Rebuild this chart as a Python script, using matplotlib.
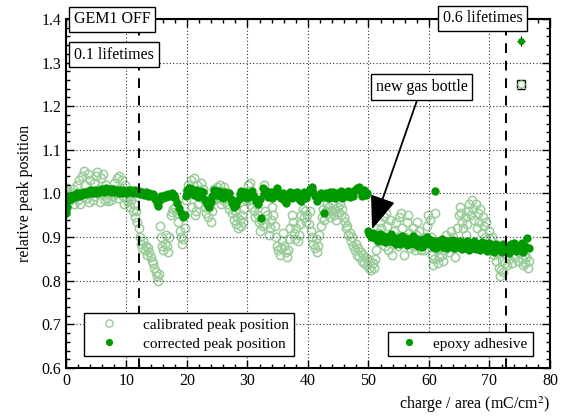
import matplotlib
matplotlib.use('Agg')
import matplotlib.pyplot as plt
from matplotlib.lines import Line2D
from matplotlib.ticker import MultipleLocator

plt.rcParams['font.family'] = 'serif'
plt.rcParams['font.serif'] = ['Liberation Serif', 'DejaVu Serif']
plt.rcParams['mathtext.fontset'] = 'stix'

# calibrated peak position (open light green circles)
calib_x = [0.0, 0.2, 0.4, 0.6, 0.8, 1.0, 1.2, 1.4, 1.6, 1.8, 2.0, 2.2, 2.4,
           2.6, 2.8, 3.0, 3.2, 3.4, 3.6, 3.8, 4.0, 4.2, 4.4, 4.6, 4.8, 5.0,
           5.2, 5.4, 5.6, 5.8, 6.0, 6.2, 6.4, 6.6, 6.8, 7.0,
           7.2, 7.4, 7.6, 7.8, 8.0, 8.2, 8.4, 8.6, 8.8, 9.0, 9.2, 9.4,
           9.6, 9.8, 10.0, 10.2, 10.4, 10.6, 10.8, 11.0, 11.2, 11.4, 11.6, 11.8,
           12.0, 12.2, 12.4, 12.6, 12.8, 13.0, 13.2, 13.4, 13.6, 13.8, 14.0, 14.2,
           14.4, 14.6, 14.8, 15.0, 15.2, 15.3,
           15.5, 15.7, 15.9, 16.1, 16.3, 16.5, 16.7, 16.9, 17.1, 17.3, 17.5, 17.7,
           18.0, 18.3, 18.6, 18.8, 19.0, 19.2, 19.4, 19.6,
           19.8, 20.0, 20.2, 20.5, 20.7, 20.9, 21.1, 21.3, 21.5, 21.7, 21.9, 22.1, 22.3, 22.5,
           22.7, 22.9, 23.1, 23.3, 23.5, 23.7, 23.9, 24.1, 24.3, 24.5, 24.7,
           25.0, 25.2, 25.4, 25.6, 25.8, 26.0, 26.2, 26.4, 26.6, 26.8, 27.0, 27.2,
           27.5, 27.7, 27.9, 28.1, 28.3, 28.5, 28.7, 28.9, 29.1, 29.3, 29.5, 29.7,
           29.9, 30.1, 30.3, 30.5, 30.7, 30.9, 31.1, 31.3, 31.5, 31.7, 31.9, 32.1, 32.3, 32.5,
           32.7, 32.9, 33.1, 33.3, 33.5, 33.7, 33.9, 34.1, 34.3, 34.5, 34.7, 34.9,
           35.1, 35.3, 35.5, 35.7, 35.9, 36.1, 36.3, 36.5, 36.7, 36.9, 37.1, 37.3,
           37.5, 37.7, 37.9, 38.1, 38.3, 38.5, 38.7, 38.9, 39.1, 39.3, 39.5, 39.7,
           39.9, 40.1, 40.3, 40.5, 40.7, 40.9, 41.1, 41.3, 41.5, 41.7, 41.9, 42.1,
           42.3, 42.5, 42.7, 42.9, 43.1, 43.3, 43.5, 43.7, 43.9, 44.1, 44.3, 44.5,
           44.7, 44.9, 45.1, 45.3, 45.5, 45.7, 45.9, 46.1, 46.3, 46.5, 46.7, 46.9,
           47.1, 47.3, 47.5, 47.7, 47.9, 48.1, 48.3, 48.5, 48.7, 48.9, 49.1, 49.3,
           49.5, 49.7, 49.9, 50.1, 50.3, 50.5, 50.7, 50.9, 51.1, 51.3,
           51.5, 51.7, 51.9, 52.1, 52.3, 52.5, 52.7, 52.9, 53.1, 53.3, 53.5, 53.7,
           53.9, 54.1, 54.3, 54.5, 54.7, 54.9, 55.1, 55.3, 55.5, 55.7, 55.9, 56.1,
           56.3, 56.5, 56.7, 56.9, 57.1, 57.3, 57.5, 57.7, 57.9, 58.1, 58.3, 58.5,
           58.7, 58.9, 59.1, 59.3, 59.5, 59.7, 59.9, 60.1, 60.3, 60.5, 60.7, 60.9,
           61.0, 61.1, 61.3, 61.5, 61.7, 61.9, 62.1, 62.3, 62.5, 62.7, 62.9, 63.1,
           63.3, 63.5, 63.7, 63.9, 64.1, 64.3, 64.5, 64.7,
           64.9, 65.1, 65.3, 65.5, 65.7, 65.9, 66.1, 66.3, 66.5, 66.7, 66.9, 67.1,
           67.3, 67.5, 67.7, 67.9, 68.1, 68.3, 68.5, 68.7, 68.9, 69.1, 69.3, 69.5,
           69.7, 69.9, 70.1, 70.3, 70.5, 70.7, 70.9, 71.1, 71.3, 71.5, 71.7, 71.9,
           72.1, 72.3, 72.5, 72.7, 72.9, 73.1, 73.3, 73.5, 73.7, 73.9, 74.1, 74.3,
           74.5, 74.7, 74.9, 75.1, 75.3, 75.5, 75.7, 75.9, 76.1, 76.3, 76.5]
calib_y = [1.005, 1.012, 0.998, 0.985, 1.000, 0.990, 1.010, 0.975, 0.995, 1.020, 0.985, 1.030, 0.975,
           1.040, 1.000, 1.052, 1.020, 0.990, 1.045, 0.980, 1.030, 1.000, 0.985, 1.025, 0.995, 1.040,
           1.048, 1.010, 0.980, 1.035, 1.000, 1.045, 0.985, 1.020, 0.990, 0.982,
           1.000, 0.985, 1.010, 0.995, 1.025, 1.000, 1.035, 0.990, 1.040, 1.010, 1.030, 0.995,
           0.975, 1.020, 0.990, 0.980, 0.995, 0.970, 0.985, 0.960, 0.975, 0.945, 0.960, 0.935,
           0.920, 0.900, 0.885, 0.875, 0.890, 0.870, 0.880, 0.860, 0.875, 0.865, 0.855, 0.845,
           0.840, 0.830, 0.820, 0.810, 0.800, 0.815,
           0.925, 0.900, 0.880, 0.870, 0.885, 0.905, 0.880, 0.865, 0.900, 0.950, 0.958, 0.965,
           0.970, 0.955, 0.935, 0.915, 0.900, 0.885, 0.895, 0.920,
           0.985, 1.005, 1.020, 1.000, 1.030, 0.970, 1.035, 0.950, 0.960, 1.020, 0.975, 1.005, 1.025, 0.990,
           1.010, 0.970, 0.955, 0.985, 0.945, 0.970, 0.935, 0.960, 0.985, 1.010, 0.995,
           1.015, 0.990, 1.020, 0.975, 1.005, 0.985, 1.015, 0.995, 0.975, 1.000, 0.965, 0.985,
           0.955, 0.940, 0.960, 0.930, 0.945, 0.920, 0.940, 0.925, 0.950, 0.935, 0.965, 0.985,
           1.000, 1.020, 0.985, 1.025, 0.970, 0.995, 0.960, 0.945, 0.975, 0.950, 0.935, 0.915, 0.940, 0.925,
           1.020, 0.960, 0.930, 0.950, 0.905, 0.920, 0.940, 0.970, 0.950, 0.925, 0.900, 0.880,
           0.870, 0.860, 0.875, 0.890, 0.910, 0.880, 0.865, 0.855, 0.870, 0.895, 0.920, 0.950,
           0.935, 0.910, 0.895, 0.920, 0.890, 0.905, 0.930, 0.950, 0.965, 0.945, 0.960, 0.935,
           0.950, 0.930, 0.960, 0.915, 0.900, 0.885, 0.875, 0.895, 0.865, 0.880, 0.905, 0.925,
           0.945, 0.965, 0.940, 0.960, 0.975, 0.955, 0.970, 0.945, 0.960, 0.975, 0.950, 0.965,
           0.940, 0.970, 0.955, 0.975, 0.950, 0.965, 0.945, 0.935, 0.920, 0.925, 0.905, 0.910,
           0.890, 0.900, 0.880, 0.870, 0.885, 0.860, 0.875, 0.855, 0.865, 0.845, 0.860, 0.840,
           0.855, 0.835, 0.850, 0.830, 0.845, 0.825, 0.840, 0.830, 0.850, 0.870,
           0.890, 0.910, 0.935, 0.920, 0.900, 0.945, 0.880, 0.955, 0.925, 0.870, 0.940, 0.900,
           0.860, 0.885, 0.915, 0.935, 0.900, 0.880, 0.945, 0.955, 0.920, 0.890, 0.860, 0.900,
           0.935, 0.950, 0.910, 0.875, 0.895, 0.920, 0.880, 0.870, 0.905, 0.935, 0.915, 0.890,
           0.870, 0.895, 0.870, 0.885, 0.900, 0.925, 0.950, 0.940, 0.900, 0.860, 0.835, 0.850,
           0.955, 0.880, 0.870, 0.840, 0.855, 0.875, 0.860, 0.845, 0.870, 0.890, 0.905, 0.880,
           0.865, 0.890, 0.915, 0.900, 0.875, 0.855, 0.880, 0.920,
           0.950, 0.970, 0.955, 0.935, 0.920, 0.945, 0.905, 0.930, 0.960, 0.975, 0.950, 0.985,
           0.965, 0.940, 0.975, 0.920, 0.955, 0.935, 0.965, 0.910, 0.945, 0.925, 0.900, 0.935,
           0.885, 0.915, 0.895, 0.870, 0.900, 0.860, 0.880, 0.845, 0.865, 0.830, 0.810, 0.825,
           0.845, 0.820, 0.840, 0.860, 0.835, 0.880, 0.850, 0.870, 0.840, 0.860, 0.885, 0.855,
           0.870, 0.845, 0.865, 0.880, 0.850, 0.835, 0.860, 0.840, 0.855, 0.830, 0.845]

# corrected peak position (filled dark green dots)
corr_x = [0.0, 0.1, 0.3, 0.6, 0.9, 1.2, 1.5, 1.8, 2.1, 2.4, 2.7, 3.0, 3.3, 3.6, 3.9,
          4.2, 4.5, 4.8, 5.1, 5.4, 5.7, 6.0, 6.3, 6.6, 6.9, 7.2, 7.5, 7.8, 8.1, 8.4,
          8.7, 9.0, 9.3, 9.6, 9.9, 10.2, 10.5, 10.8, 11.1, 11.4, 11.7, 12.0, 12.3, 12.6,
          12.9, 13.2, 13.5, 13.8, 14.1, 14.4, 14.7, 15.0, 15.2, 15.4, 15.7, 16.0, 16.3,
          16.6, 16.9, 17.2, 17.5, 17.8, 18.1, 18.4, 18.7, 19.0, 19.3, 19.6, 19.8, 20.0,
          20.3, 20.6, 20.9, 21.2, 21.5, 21.8, 22.1, 22.4, 22.7, 23.0, 23.3, 23.6, 23.9,
          24.2, 24.5, 24.8, 25.1, 25.4, 25.7, 26.0, 26.3, 26.6, 26.9, 27.2, 27.5, 27.8,
          28.1, 28.4, 28.7, 29.0, 29.3, 29.6, 29.9, 30.2, 30.5, 30.8, 31.1, 31.4, 31.7,
          32.0, 32.2, 32.5, 32.8, 33.1, 33.4, 33.7, 34.0, 34.3, 34.6, 34.9, 35.2, 35.5,
          35.8, 36.1, 36.4, 36.7, 37.0, 37.3, 37.6, 37.9, 38.2, 38.5, 38.8, 39.1, 39.4,
          39.7, 40.0, 40.3, 40.6, 40.9, 41.2, 41.5, 41.8, 42.1, 42.4, 42.7, 43.0, 43.3,
          43.6, 43.9, 44.2, 44.5, 44.8, 45.1, 45.4, 45.7, 46.0, 46.3, 46.6, 46.9, 47.2,
          47.5, 47.8, 48.1, 48.4, 48.7, 49.0, 49.3, 49.6, 49.8,
          49.9, 50.1, 50.4, 50.7, 51.0, 51.3, 51.6, 51.9, 52.2, 52.5, 52.8, 53.1, 53.4,
          53.7, 54.0, 54.3, 54.6, 54.9, 55.2, 55.5, 55.8, 56.1, 56.4, 56.7, 57.0, 57.3,
          57.6, 57.9, 58.2, 58.5, 58.8, 59.1, 59.4, 59.7, 60.0, 60.3, 60.6, 60.9, 61.2,
          61.5, 61.8, 62.1, 62.4, 62.7, 63.0, 63.3, 63.6, 63.9, 64.2, 64.5, 64.8, 65.1,
          65.4, 65.7, 66.0, 66.3, 66.6, 66.9, 67.2, 67.5, 67.8, 68.1, 68.4, 68.7, 69.0,
          69.3, 69.6, 69.9, 70.2, 70.5, 70.8, 71.1, 71.4, 71.7, 72.0, 72.3, 72.6, 72.9,
          73.2, 73.5, 73.8, 74.1, 74.4, 74.7, 75.0, 75.3, 75.6, 75.9, 76.2, 76.5]
corr_y = [0.956, 0.970, 0.985, 0.993, 0.988, 0.997, 0.992, 1.000, 0.995, 1.002, 0.996, 1.004, 0.998, 1.006, 1.000,
          1.007, 1.001, 1.008, 1.002, 1.009, 1.003, 1.011, 1.004, 1.012, 1.005, 1.011, 1.004, 1.010, 1.003, 1.009,
          1.002, 1.008, 1.001, 1.007, 1.002, 1.009, 1.003, 1.007, 1.001, 1.008, 1.002, 1.005, 0.998, 1.004,
          0.997, 1.003, 0.995, 1.001, 0.994, 0.999, 0.988, 0.978, 0.972, 0.982, 0.994, 0.990, 0.997,
          0.991, 0.998, 0.993, 1.000, 0.996, 0.990, 0.978, 0.966, 0.955, 0.945, 0.950, 0.995, 1.008,
          1.013, 1.000, 1.010, 0.996, 1.008, 0.992, 1.006, 0.995, 1.004, 0.985, 0.975, 0.968, 0.980,
          0.995, 1.008, 0.996, 1.006, 0.993, 1.004, 0.990, 1.003, 0.994, 1.002, 0.988, 0.978, 0.968,
          0.974, 0.985, 0.998, 1.006, 0.992, 1.004, 0.990, 1.002, 0.994, 1.005, 0.991, 0.982, 0.975,
          0.988, 0.943, 1.012, 0.998, 1.006, 0.992, 1.003, 0.990, 1.004, 0.994, 1.012, 1.000, 0.990,
          1.002, 0.985, 0.978, 0.992, 1.004, 0.990, 1.002, 0.993, 1.004, 0.988, 0.982, 0.995, 1.003,
          0.990, 1.002, 1.010, 1.014, 1.004, 0.995, 0.982, 0.990, 1.002, 0.992, 0.956, 1.000, 0.990,
          1.004, 0.992, 1.003, 0.990, 1.002, 0.993, 1.005, 0.990, 1.002, 0.993, 1.006, 0.991, 1.004,
          0.994, 1.008, 1.012, 1.015, 1.004, 0.995, 1.008, 0.996, 1.002,
          0.915, 0.906, 0.900, 0.910, 0.897, 0.905, 0.892, 0.906, 0.894, 0.903, 0.889, 0.901, 0.892,
          0.907, 0.888, 0.899, 0.885, 0.897, 0.884, 0.902, 0.890, 0.899, 0.881, 0.895, 0.886, 0.903,
          0.884, 0.896, 0.880, 0.893, 0.878, 0.895, 0.883, 0.900, 0.886, 0.894, 0.878, 0.890, 0.876,
          0.892, 0.881, 0.896, 0.878, 0.889, 0.874, 0.891, 0.880, 0.893, 0.874, 0.888, 0.877, 0.892,
          0.872, 0.887, 0.876, 0.890, 0.871, 0.885, 0.875, 0.890, 0.872, 0.884, 0.870, 0.889, 0.876,
          0.883, 0.868, 0.886, 0.874, 0.882, 0.866, 0.885, 0.872, 0.880, 0.866, 0.884, 0.870, 0.878,
          0.864, 0.883, 0.872, 0.886, 0.868, 0.880, 0.873, 0.887, 0.866, 0.880, 0.898, 0.876]

# epoxy adhesive point
epoxy_x = [61.0]
epoxy_y = [1.005]

# reference markers with error bars (top right)
ref_x = [75.2, 75.2]
ref_y = [1.35, 1.25]
ref_xerr = 0.7
ref_yerr = 0.011

# vertical markers
lifetime_x = [12.1, 72.7]

dark = '#009900'
light = '#99cc99'
msize = 6.0

fig = plt.figure(figsize=(5.61, 4.16), dpi=100)
ax = fig.add_axes([0.1176, 0.1154, 0.8627, 0.8392])

ax.plot(calib_x, calib_y, 'o', mfc='none', mec=light, ms=msize, mew=1.1, zorder=2)
ax.plot(corr_x, corr_y, 'o', color=dark, ms=msize, mew=0, zorder=3)
ax.plot(epoxy_x, epoxy_y, 'o', color=dark, ms=msize, mew=0, zorder=3)

ax.errorbar(ref_x[0], ref_y[0], xerr=ref_xerr, yerr=ref_yerr, fmt='o', color=dark,
            ms=5, mew=0, ecolor='black', elinewidth=0.8, capsize=3, capthick=0.8, zorder=4)
ax.errorbar(ref_x[1], ref_y[1], xerr=ref_xerr, yerr=ref_yerr, fmt='o', mfc='white',
            mec=light, ms=5, mew=1.0, ecolor='black', elinewidth=0.8, capsize=3,
            capthick=0.8, zorder=4)

for lx in lifetime_x:
    ax.axvline(lx, color='black', ls=(0, (5, 4)), lw=1.4, zorder=5)

ax.set_xlim(0, 80)
ax.set_ylim(0.6, 1.4)
ax.xaxis.set_major_locator(MultipleLocator(10))
ax.xaxis.set_minor_locator(MultipleLocator(2))
ax.yaxis.set_major_locator(MultipleLocator(0.1))
ax.yaxis.set_minor_locator(MultipleLocator(0.02))
ax.tick_params(which='both', direction='in', top=True, right=True, labelsize=11.5)
ax.tick_params(which='major', length=6, width=1)
ax.tick_params(which='minor', length=3, width=1)
ax.grid(True, which='major', ls=(0, (1, 2)), color='#333333', lw=0.8, zorder=4)
ax.set_axisbelow(False)
for s in ax.spines.values():
    s.set_linewidth(1.5)
    s.set_zorder(6)

ax.set_xlabel('charge / area (mC/cm$^2$)', loc='right', fontsize=11.5, labelpad=4)
ax.set_ylabel('relative peak position', fontsize=11.5, labelpad=6)

box = dict(boxstyle='square,pad=0.3', fc='white', ec='black', lw=1.0)
ax.text(1.3, 1.399, 'GEM1 OFF', fontsize=11.5, ha='left', va='center', bbox=box,
        zorder=7, clip_on=False)
ax.text(1.3, 1.318, '0.1 lifetimes', fontsize=11.5, ha='left', va='center', bbox=box,
        zorder=7)
ax.text(62.3, 1.401, '0.6 lifetimes', fontsize=11.5, ha='left', va='center', bbox=box,
        zorder=7, clip_on=False)
ax.annotate('new gas bottle', xy=(50.6, 0.918), xytext=(58.8, 1.244), fontsize=11.5,
            ha='center', va='center', bbox=box, zorder=7,
            arrowprops=dict(arrowstyle='-|>,head_length=1.3,head_width=0.5',
                            color='black', lw=1.3, shrinkA=0, shrinkB=0, mutation_scale=16))

h1 = [Line2D([], [], ls='none', marker='o', mfc='none', mec=light, ms=5.2, mew=1.0),
      Line2D([], [], ls='none', marker='o', color=dark, ms=5.2, mew=0)]
leg1 = ax.legend(h1, ['calibrated peak position', 'corrected peak position'],
                 loc='lower left', bbox_to_anchor=(0.037, 0.034), borderaxespad=0,
                 fontsize=11, fancybox=False, framealpha=1, edgecolor='black',
                 handlelength=2.6, handletextpad=0.9, labelspacing=0.35,
                 borderpad=0.35)
leg1.get_frame().set_linewidth(1.0)
leg1.set_zorder(8)
ax.add_artist(leg1)
h2 = [Line2D([], [], ls='none', marker='o', color=dark, ms=5.2, mew=0)]
leg2 = ax.legend(h2, ['epoxy adhesive'], loc='lower right', bbox_to_anchor=(0.965, 0.034),
                 borderaxespad=0, fontsize=11, fancybox=False, framealpha=1,
                 edgecolor='black', handlelength=2.0, handletextpad=0.6, borderpad=0.35)
leg2.get_frame().set_linewidth(1.0)
leg2.set_zorder(8)

fig.savefig('out.png', dpi=100)
